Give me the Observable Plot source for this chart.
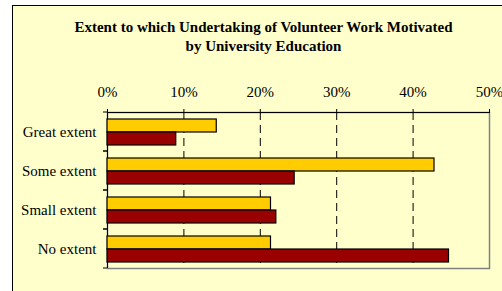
<!DOCTYPE html>
<html><head><meta charset="utf-8">
<script src="https://cdn.jsdelivr.net/npm/d3@7"></script>
<script src="https://cdn.jsdelivr.net/npm/@observablehq/plot@0.6"></script>
<style>
html,body{margin:0;padding:0;background:#fff;overflow:hidden;width:502px;height:291px;}
#bg{position:absolute;left:12px;top:5px;width:520px;height:320px;border:1px solid #000;background:#FFFFCC;}
#title{position:absolute;left:0;top:18px;width:527px;text-align:center;font-family:"Liberation Serif","Times New Roman",serif;font-weight:bold;font-size:15px;line-height:19px;color:#000;}
#plot{position:absolute;left:0;top:56px;}
</style>
</head><body>
<div id="bg"></div>
<div id="title">Extent to which Undertaking of Volunteer Work Motivated<br>by University Education</div>
<div id="plot"></div>
<script>
const categories = ["Great extent", "Some extent", "Small extent", "No extent"];
const seriesNames = ["Series 1", "Series 2"];
const series1 = [14.3, 42.8, 21.4, 21.4];
const series2 = [9.0, 24.5, 22.1, 44.7];
const xTicks = [0, 10, 20, 30, 40, 50];
const gridTicks = [10, 20, 30, 40];
const colors = ["#FFCC00", "#990000"];

const data = categories.flatMap((c, i) => [
  {category: c, series: seriesNames[0], value: series1[i]},
  {category: c, series: seriesNames[1], value: series2[i]}
]);

function leftTicks(index, scales, values, dimensions) {
  const {marginLeft, marginTop, height, marginBottom} = dimensions;
  const g = d3.create("svg:g").attr("stroke", "#000").attr("stroke-width", 1);
  for (const y of [marginTop, height - marginBottom]) {
    g.append("line").attr("x1", marginLeft - 4).attr("x2", marginLeft).attr("y1", y).attr("y2", y);
  }
  return g.node();
}

const chart = Plot.plot({
  width: 502, height: 235,
  marginLeft: 107, marginRight: 13, marginTop: 54, marginBottom: 22,
  facet: {marginTop: 0, marginRight: 0, marginBottom: 0, marginLeft: 0},
  style: {background: "transparent", fontFamily: '"Liberation Serif","Times New Roman",serif', fontSize: "15px", color: "#000", overflow: "visible"},
  x: {domain: [0, 50], axis: null},
  y: {domain: seriesNames, paddingInner: 0, paddingOuter: 0.42, axis: null},
  fy: {domain: categories, padding: 0, axis: null},
  color: {domain: seriesNames, range: colors},
  marks: [
    Plot.frame({stroke: "#808080", strokeWidth: 1.5, facet: "super"}),
    Plot.ruleX(gridTicks, {stroke: "#000", strokeDasharray: "8,5"}),
    Plot.ruleX([0], {stroke: "#000", strokeWidth: 1}),
    Plot.frame({anchor: "top", stroke: "#000", strokeWidth: 1, facet: "super"}),
    Plot.barX(data, {fy: "category", y: "series", x: "value", fill: "series", stroke: "#000", strokeWidth: 1.2}),
    Plot.axisX(xTicks, {anchor: "top", tickSize: 4, tickPadding: 12, tickFormat: d => d + "%", fontSize: 15, label: null}),
    Plot.axisFy({anchor: "left", tickSize: 0, tickPadding: 11, fontSize: 15, label: null}),
    leftTicks
  ]
});
document.getElementById("plot").appendChild(chart);
</script>
</body></html>
